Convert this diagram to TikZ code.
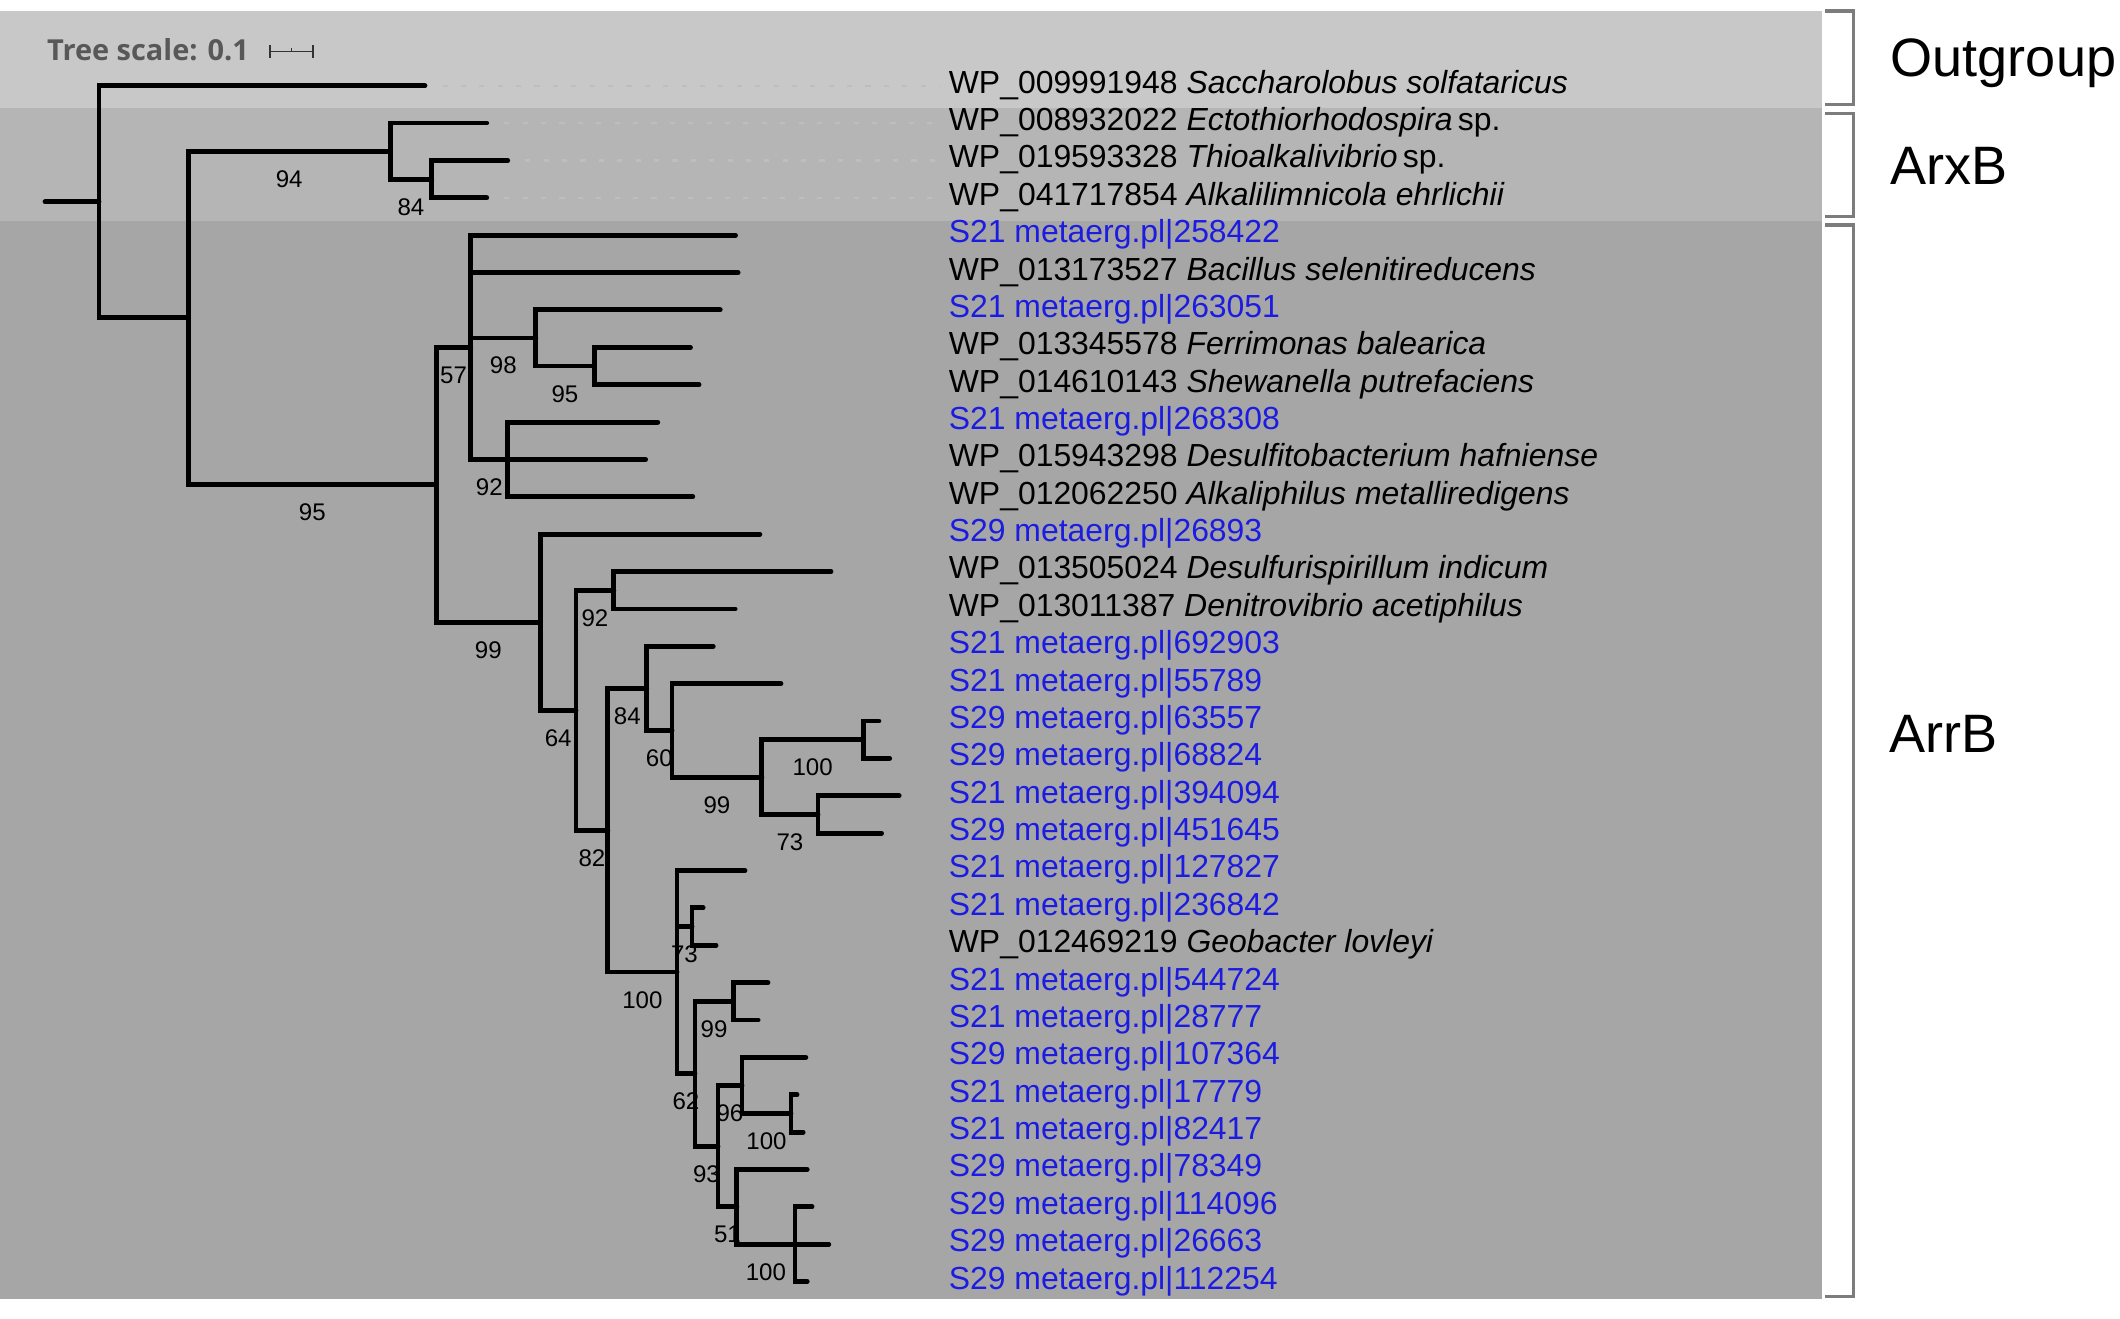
\documentclass[tikz,border=0pt]{standalone}
\usepackage{fontspec}
\setmainfont{Liberation Sans}
\newfontfamily\scalefont{Open Sans}
\definecolor{bandout}{RGB}{200,200,200}
\definecolor{bandarx}{RGB}{181,181,181}
\definecolor{bandarr}{RGB}{166,166,166}
\definecolor{metablue}{RGB}{28,28,225}
\definecolor{brackgray}{RGB}{124,124,124}
\definecolor{guidegray}{RGB}{190,190,190}
\definecolor{scalegray}{RGB}{88,88,88}
\tikzset{
  branch/.style={line width=1.8pt, line cap=round},
  boot/.style={pos=0.75, yshift=-10.25pt, inner sep=0pt, font=\fontsize{8.9}{10}\selectfont},
  leaflabel/.style={anchor=base west, inner sep=0pt, yshift=-2.75pt, font=\fontsize{11.8}{14}\selectfont},
  meta/.style={leaflabel, text=metablue},
  guide/.style={draw=guidegray, line width=0.75pt, dash pattern=on 1.9pt off 4.9pt, shorten <=6.5pt, shorten >=3pt},
  bracket/.style={draw=brackgray, line width=1.2pt},
  group/.style={anchor=base west, inner sep=0pt, font=\fontsize{20}{24}\selectfont}
}
\begin{document}
\begin{tikzpicture}[x=0.5pt,y=-0.5pt]
      \useasboundingbox (0,0) rectangle (1568,975);
      \fill[bandout] (0,7.9) rectangle (1347.5,80);
      \fill[bandarx] (0,80) rectangle (1347.5,163.8);
      \fill[bandarr] (0,163.8) rectangle (1347.5,960.8);
      \draw[bracket] (1350,8.1) -| (1370.8,77.2) -- (1350,77.2);
      \draw[bracket] (1350,83.8) -| (1370.8,160.3) -- (1350,160.3);
      \draw[bracket] (1350,166.4) -| (1370.8,959) -- (1350,959);
      \node[group] (outgroup) at (1398,56.8) {Outgroup};
      \node[group] (arxb) at (1398,136.1) {ArxB};
      \node[group] (arrb) at (1397,556.7) {ArrB};
      \node[anchor=base west, inner sep=0pt, text=scalegray, font=\scalefont\bfseries\fontsize{10.7}{12}\selectfont] (treescale) at (34.5,44.4) {Tree scale: 0.1};
      \draw[line width=0.6pt, draw=black!80] (199.7,38.2) -- (231.7,38.2)
        (199.7,33.6) -- (199.7,42.6) (231.7,33.6) -- (231.7,42.6) (215.7,38.2) -- (215.7,35.6);
      \draw
        (33.3,149.25) coordinate (stub)
        (73.2,149.25) coordinate (n0)
        (139.3,235.1) coordinate (n1)
        (288.5,111.75) coordinate (n2)
        (319.3,132.5) coordinate (n3)
        (322.7,358.5) coordinate (n4)
        (348.2,256.9) coordinate (n5)
        (396.3,249.95) coordinate (n6)
        (439.4,270.7) coordinate (n7)
        (375.6,339.8) coordinate (n8)
        (399.7,460.2) coordinate (n9)
        (426,525.3) coordinate (n10)
        (454,436.55) coordinate (n11)
        (449.6,614.0) coordinate (n12)
        (478.3,509.1) coordinate (n13)
        (497,540.2) coordinate (n14)
        (563.5,574.75) coordinate (n15)
        (638.5,547.1) coordinate (n16)
        (605,602.4) coordinate (n17)
        (500.7,718.95) coordinate (n18)
        (511.8,685.3) coordinate (n19)
        (514,794.1) coordinate (n20)
        (542.2,740.6) coordinate (n21)
        (531,847.7) coordinate (n22)
        (548.8,802.75) coordinate (n23)
        (585,823.5) coordinate (n24)
        (545,892.6) coordinate (n25)
        (588,920.25) coordinate (n26);
      \draw
        (314.3,63.4) coordinate (1)
        (360,91.0) coordinate (2)
        (375.5,118.7) coordinate (3)
        (360,146.3) coordinate (4)
        (544,174.0) coordinate (5)
        (545.9,201.6) coordinate (6)
        (532.7,229.2) coordinate (7)
        (510.7,256.9) coordinate (8)
        (517,284.5) coordinate (9)
        (486.5,312.2) coordinate (10)
        (477.5,339.8) coordinate (11)
        (512.4,367.4) coordinate (12)
        (562,395.1) coordinate (13)
        (614.6,422.7) coordinate (14)
        (543.7,450.4) coordinate (15)
        (527.5,478.0) coordinate (16)
        (577.6,505.6) coordinate (17)
        (650,533.3) coordinate (18)
        (658,560.9) coordinate (19)
        (665,588.6) coordinate (20)
        (652,616.2) coordinate (21)
        (551,643.8) coordinate (22)
        (520,671.5) coordinate (23)
        (529.6,699.1) coordinate (24)
        (568,726.8) coordinate (25)
        (560.7,754.4) coordinate (26)
        (596,782.0) coordinate (27)
        (589.5,809.7) coordinate (28)
        (594,837.3) coordinate (29)
        (597,865.0) coordinate (30)
        (600.6,892.6) coordinate (31)
        (613,920.2) coordinate (32)
        (597,947.9) coordinate (33);
      \draw
        (701.4,63.4) node[leaflabel] (t1) {WP\_009991948 \textit{Saccharolobus solfataricus}}
        (701.4,91.0) node[leaflabel] (t2) {WP\_008932022 \textit{Ectothiorhodospira}\,sp.}
        (701.4,118.7) node[leaflabel] (t3) {WP\_019593328 \textit{Thioalkalivibrio}\,sp.}
        (701.4,146.3) node[leaflabel] (t4) {WP\_041717854 \textit{Alkalilimnicola ehrlichii}}
        (701.4,174.0) node[meta] (t5) {S21 metaerg.pl|258422}
        (701.4,201.6) node[leaflabel] (t6) {WP\_013173527 \textit{Bacillus selenitireducens}}
        (701.4,229.2) node[meta] (t7) {S21 metaerg.pl|263051}
        (701.4,256.9) node[leaflabel] (t8) {WP\_013345578 \textit{Ferrimonas balearica}}
        (701.4,284.5) node[leaflabel] (t9) {WP\_014610143 \textit{Shewanella putrefaciens}}
        (701.4,312.2) node[meta] (t10) {S21 metaerg.pl|268308}
        (701.4,339.8) node[leaflabel] (t11) {WP\_015943298 \textit{Desulfitobacterium hafniense}}
        (701.4,367.4) node[leaflabel] (t12) {WP\_012062250 \textit{Alkaliphilus metalliredigens}}
        (701.4,395.1) node[meta] (t13) {S29 metaerg.pl|26893}
        (701.4,422.7) node[leaflabel] (t14) {WP\_013505024 \textit{Desulfurispirillum indicum}}
        (701.4,450.4) node[leaflabel] (t15) {WP\_013011387 \textit{Denitrovibrio acetiphilus}}
        (701.4,478.0) node[meta] (t16) {S21 metaerg.pl|692903}
        (701.4,505.6) node[meta] (t17) {S21 metaerg.pl|55789}
        (701.4,533.3) node[meta] (t18) {S29 metaerg.pl|63557}
        (701.4,560.9) node[meta] (t19) {S29 metaerg.pl|68824}
        (701.4,588.6) node[meta] (t20) {S21 metaerg.pl|394094}
        (701.4,616.2) node[meta] (t21) {S29 metaerg.pl|451645}
        (701.4,643.8) node[meta] (t22) {S21 metaerg.pl|127827}
        (701.4,671.5) node[meta] (t23) {S21 metaerg.pl|236842}
        (701.4,699.1) node[leaflabel] (t24) {WP\_012469219 \textit{Geobacter lovleyi}}
        (701.4,726.8) node[meta] (t25) {S21 metaerg.pl|544724}
        (701.4,754.4) node[meta] (t26) {S21 metaerg.pl|28777}
        (701.4,782.0) node[meta] (t27) {S29 metaerg.pl|107364}
        (701.4,809.7) node[meta] (t28) {S21 metaerg.pl|17779}
        (701.4,837.3) node[meta] (t29) {S21 metaerg.pl|82417}
        (701.4,865.0) node[meta] (t30) {S29 metaerg.pl|78349}
        (701.4,892.6) node[meta] (t31) {S29 metaerg.pl|114096}
        (701.4,920.2) node[meta] (t32) {S29 metaerg.pl|26663}
        (701.4,947.9) node[meta] (t33) {S29 metaerg.pl|112254};
      \begin{scope}[guide]
        \draw (1) -- (t1.west |- 1);
        \draw (2) -- (t2.west |- 2);
        \draw (3) -- (t3.west |- 3);
        \draw (4) -- (t4.west |- 4);
      \end{scope}
      \begin{scope}[branch]
        \draw (stub) -- (n0);
        \draw (n0) |- (1);
        \draw (n0) |- (n1);
        \draw (n1) |- node[boot]{94} (n2);
        \draw (n2) |- (2);
        \draw (n2) |- node[boot]{84} (n3);
        \draw (n3) |- (3);
        \draw (n3) |- (4);
        \draw (n1) |- node[boot]{95} (n4);
        \draw (n4) |- node[boot]{57} (n5);
        \draw (n5) |- (5);
        \draw (n5) |- (6);
        \draw (n5) |- node[boot]{98} (n6);
        \draw (n6) |- (7);
        \draw (n6) |- node[boot]{95} (n7);
        \draw (n7) |- (8);
        \draw (n7) |- (9);
        \draw (n5) |- node[boot]{92} (n8);
        \draw (n8) |- (10);
        \draw (n8) |- (11);
        \draw (n8) |- (12);
        \draw (n4) |- node[boot]{99} (n9);
        \draw (n9) |- (13);
        \draw (n9) |- node[boot]{64} (n10);
        \draw (n10) |- node[boot]{92} (n11);
        \draw (n11) |- (14);
        \draw (n11) |- (15);
        \draw (n10) |- node[boot]{82} (n12);
        \draw (n12) |- node[boot]{84} (n13);
        \draw (n13) |- (16);
        \draw (n13) |- node[boot]{60} (n14);
        \draw (n14) |- (17);
        \draw (n14) |- node[boot]{99} (n15);
        \draw (n15) |- node[boot]{100} (n16);
        \draw (n16) |- (18);
        \draw (n16) |- (19);
        \draw (n15) |- node[boot]{73} (n17);
        \draw (n17) |- (20);
        \draw (n17) |- (21);
        \draw (n12) |- node[boot]{100} (n18);
        \draw (n18) |- (22);
        \draw (n18) |- node[boot]{73} (n19);
        \draw (n19) |- (23);
        \draw (n19) |- (24);
        \draw (n18) |- node[boot]{62} (n20);
        \draw (n20) |- node[boot]{99} (n21);
        \draw (n21) |- (25);
        \draw (n21) |- (26);
        \draw (n20) |- node[boot]{93} (n22);
        \draw (n22) |- node[boot]{96} (n23);
        \draw (n23) |- (27);
        \draw (n23) |- node[boot]{100} (n24);
        \draw (n24) |- (28);
        \draw (n24) |- (29);
        \draw (n22) |- node[boot]{51} (n25);
        \draw (n25) |- (30);
        \draw (n25) |- node[boot]{100} (n26);
        \draw (n26) |- (31);
        \draw (n26) |- (32);
        \draw (n26) |- (33);
      \end{scope}
    \end{tikzpicture}
\end{document}
